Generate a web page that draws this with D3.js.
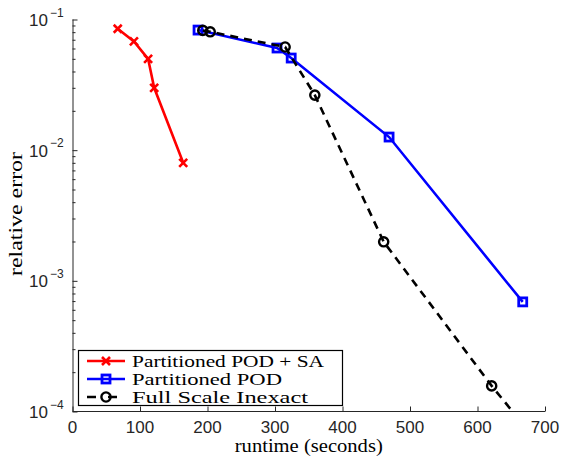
<!DOCTYPE html>
<html>
<head>
<meta charset="utf-8">
<script src="https://cdn.jsdelivr.net/npm/d3@7"></script>
<style>
  html, body { margin: 0; padding: 0; background: #fff; }
  svg { display: block; }
  .serif { font-family: "Liberation Serif", "DejaVu Serif", "Times New Roman", serif; }
  .sans { font-family: "Liberation Sans", "DejaVu Sans", Arial, sans-serif; }
</style>
</head>
<body>
<svg id="chart" width="564" height="459"></svg>
<script>
// Runtime (seconds) vs relative error for three solver variants
const seriesNames = ["Partitioned POD + SA", "Partitioned POD", "Full Scale Inexact"];

const podSaRuntime = [67, 91, 112, 121, 164];
const podSaError   = [0.085, 0.068, 0.050, 0.030, 0.0080];

const podRuntime = [186, 303, 324, 469, 667];
const podError   = [0.083, 0.0605, 0.0507, 0.0126, 0.00069];

const fullRuntime = [193, 204, 315, 359, 461, 621, 720];
const fullError   = [0.0825, 0.0805, 0.0616, 0.0264, 0.00199, 0.000157, 0.000037];

const xTickValues = [0, 100, 200, 300, 400, 500, 600, 700];
const yDecades = [-4, -3, -2, -1];

const svg = d3.select("#chart");
const plotLeft = 72.5, plotRight = 545, plotTop = 19.5, plotBottom = 411.5;

const x = d3.scaleLinear().domain([0, 700]).range([plotLeft, plotRight]);
const y = d3.scaleLog().domain([1e-4, 1e-1]).range([plotBottom, plotTop]);

const axisColor = "#262626";

// clip region for the plotted series
svg.append("defs").append("clipPath").attr("id", "plot-clip")
  .append("rect").attr("x", plotLeft).attr("y", plotTop - 10)
  .attr("width", plotRight - plotLeft + 20).attr("height", plotBottom - plotTop + 10);

// Axes: left and bottom only, ticks pointing inward
const yAxis = d3.axisLeft(y).tickValues(y.ticks()).tickSize(-3).tickFormat("");
const gy = svg.append("g").attr("transform", `translate(${plotLeft},0)`).call(yAxis);
gy.selectAll(".tick line")
  .attr("x2", d => Number.isInteger(Math.round(Math.log10(d) * 1e6) / 1e6) ? 5 : 3);
gy.select(".domain").attr("d", `M0.5,${plotTop}V${plotBottom}`);

const xAxis = d3.axisBottom(x).tickValues(xTickValues).tickSize(-5).tickFormat("");
const gx = svg.append("g").attr("transform", `translate(0,${plotBottom})`).call(xAxis);
gx.select(".domain").attr("d", `M${plotLeft},0H${plotRight}`);

[gx, gy].forEach(g => {
  g.selectAll("line, path").attr("stroke", axisColor).attr("stroke-width", 1);
});

// x tick labels
svg.append("g").selectAll("text").data(xTickValues).join("text")
  .attr("class", "sans")
  .attr("x", d => x(d)).attr("y", 433)
  .attr("text-anchor", "middle")
  .attr("font-size", 17).attr("fill", axisColor)
  .text(d => d);

// y tick labels as powers of ten
const yl = svg.append("g").selectAll("g").data(yDecades).join("g")
  .attr("transform", d => `translate(0,${y(Math.pow(10, d))})`);
yl.append("text").attr("class", "sans")
  .attr("x", 48).attr("y", 6.5).attr("text-anchor", "end")
  .attr("font-size", 17).attr("fill", axisColor).text("10");
yl.append("text").attr("class", "sans")
  .attr("x", 50).attr("y", -3).attr("text-anchor", "start")
  .attr("font-size", 12).attr("fill", axisColor).text(d => "\u2212" + Math.abs(d));

// axis titles
svg.append("text").attr("class", "serif")
  .attr("x", (plotLeft + plotRight) / 2).attr("y", 452)
  .attr("text-anchor", "middle")
  .attr("font-size", 18).attr("fill", "#000")
  .attr("textLength", 148).attr("lengthAdjust", "spacingAndGlyphs")
  .text("runtime (seconds)");

svg.append("text").attr("class", "serif")
  .attr("transform", "translate(22,214) rotate(-90)")
  .attr("text-anchor", "middle")
  .attr("font-size", 18).attr("fill", "#000")
  .attr("textLength", 124).attr("lengthAdjust", "spacingAndGlyphs")
  .text("relative error");

// Series definitions
const series = [
  { name: seriesNames[0], rt: podSaRuntime, err: podSaError, color: "#ff0000", marker: "x", dash: null },
  { name: seriesNames[1], rt: podRuntime, err: podError, color: "#0000ff", marker: "square", dash: null },
  { name: seriesNames[2], rt: fullRuntime, err: fullError, color: "#000000", marker: "circle", dash: "8,6" }
];

function drawMarker(g, type, color) {
  if (type === "x") {
    const s = 4;
    g.append("path").attr("d", `M${-s},${-s}L${s},${s}M${-s},${s}L${s},${-s}`)
      .attr("stroke", color).attr("stroke-width", 2.6).attr("fill", "none");
  } else if (type === "square") {
    g.append("rect").attr("x", -4).attr("y", -4).attr("width", 8).attr("height", 8)
      .attr("stroke", color).attr("stroke-width", 2.8).attr("fill", "none");
  } else {
    g.append("circle").attr("r", 4.6)
      .attr("stroke", color).attr("stroke-width", 2.4).attr("fill", "none");
  }
}

const line = d3.line().x(d => x(d[0])).y(d => y(d[1]));
const plot = svg.append("g").attr("clip-path", "url(#plot-clip)");

series.forEach(s => {
  const pts = s.rt.map((r, i) => [r, s.err[i]]);
  plot.append("path").datum(pts)
    .attr("d", line)
    .attr("fill", "none").attr("stroke", s.color).attr("stroke-width", 2.6)
    .attr("stroke-dasharray", s.dash);
  pts.forEach(p => {
    const g = plot.append("g").attr("transform", `translate(${x(p[0])},${y(p[1])})`);
    drawMarker(g, s.marker, s.color);
  });
});

// Legend
const lg = svg.append("g");
lg.append("rect").attr("x", 78.5).attr("y", 350.5).attr("width", 264).attr("height", 55)
  .attr("fill", "#fff").attr("stroke", "#000").attr("stroke-width", 1.2);
const legendTextWidths = [192, 150, 176];
series.forEach((s, i) => {
  const cy = 361 + i * 18;
  lg.append("line").attr("x1", 87).attr("x2", 125).attr("y1", cy).attr("y2", cy)
    .attr("stroke", s.color).attr("stroke-width", 2.6)
    .attr("stroke-dasharray", s.dash ? "9,12" : null);
  const m = lg.append("g").attr("transform", `translate(106,${cy})`);
  drawMarker(m, s.marker, s.color);
  lg.append("text").attr("class", "serif")
    .attr("x", 132).attr("y", cy + 5.5)
    .attr("font-size", 16).attr("fill", "#000")
    .attr("textLength", legendTextWidths[i]).attr("lengthAdjust", "spacingAndGlyphs")
    .text(s.name);
});
</script>
</body>
</html>
